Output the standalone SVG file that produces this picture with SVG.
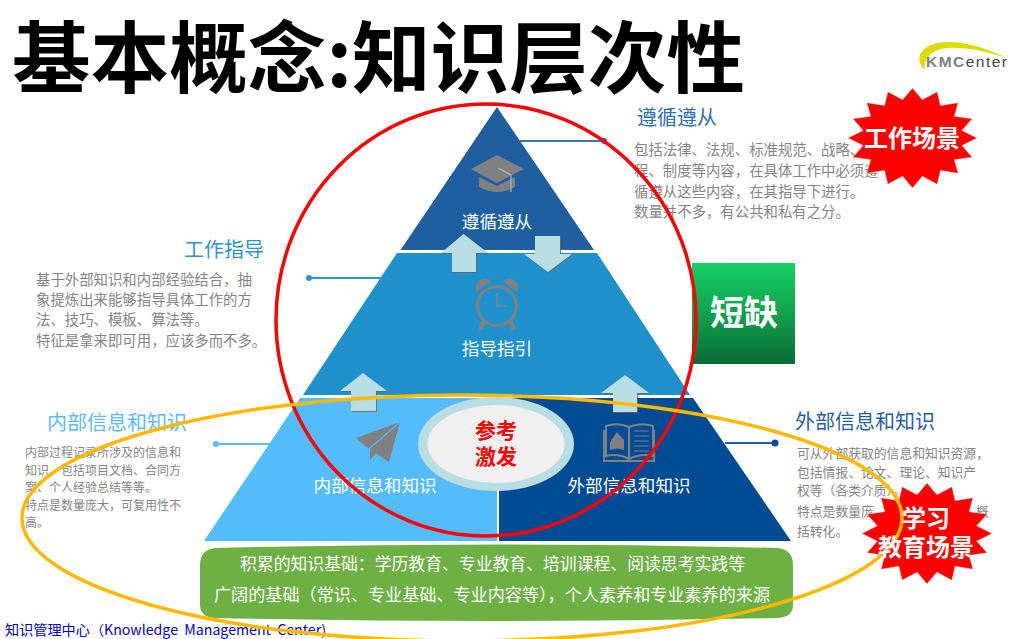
<svg xmlns="http://www.w3.org/2000/svg" width="1024" height="639" viewBox="0 0 1024 639">
<style>
text{font-family:"Noto Sans CJK SC","Noto Sans",sans-serif}
.body{font-size:14.4px;fill:#848484}
.small{font-size:12px;fill:#848484}
.mid{font-size:12.8px;fill:#848484}
.h{font-size:20px}
.lbl{font-size:17.6px;fill:#fff;text-anchor:middle}
.g{font-size:16.5px;fill:#fff}
.star{fill:#f00;stroke:#ccc;stroke-width:1}
.st{font-size:24px;font-weight:700;fill:#fff;text-anchor:middle}
.arr{fill:#b8dde2;filter:url(#sh)}
.ic{fill:#808080}
.ics{fill:none;stroke:#808080}
.conn{fill:none;stroke-width:2}
.ring{fill:none;stroke-width:3.5}
</style>
<defs>
<linearGradient id="gr" x1="0" y1="0" x2="0" y2="1"><stop offset="0" stop-color="#15d066"/><stop offset=".45" stop-color="#12a650"/><stop offset="1" stop-color="#0b6b36"/></linearGradient>
<filter id="sh" x="-10%" y="-10%" width="120%" height="120%"><feDropShadow dx="0.8" dy="0.8" stdDeviation="0.4" flood-color="#666"/></filter>
<polygon id="burst" points="100,0 76.5,15.2 92.4,38.3 64.9,43.3 70.7,70.7 43.3,64.9 38.3,92.4 15.2,76.5 0,100 -15.2,76.5 -38.3,92.4 -43.3,64.9 -70.7,70.7 -64.9,43.3 -92.4,38.3 -76.5,15.2 -100,0 -76.5,-15.2 -92.4,-38.3 -64.9,-43.3 -70.7,-70.7 -43.3,-64.9 -38.3,-92.4 -15.2,-76.5 0,-100 15.2,-76.5 38.3,-92.4 43.3,-64.9 70.7,-70.7 64.9,-43.3 92.4,-38.3 76.5,-15.2"/>
</defs>
<rect width="1024" height="639" fill="#fff"/>
<text id="title" x="12" y="87" font-size="78" font-weight="700" fill="#000" textLength="733" lengthAdjust="spacingAndGlyphs">基本概念:知识层次性</text>
<g id="logo">
<path d="M925 70C912 58 922 42 948 42C970 42 990 50 1007 58C985 51 965 47 948 48C932 49 923 58 925 70Z" fill="#dcdc00"/>
<text x="926" y="67" font-size="15.500" font-weight="700" fill="#808080" style="font-family:'Liberation Sans',sans-serif" textLength="81">KMC<tspan font-weight="400" fill="#444">enter</tspan></text>
</g>
<g id="connectors">
<path class="conn" d="M520 141H604" stroke="#3a76b0"/><circle cx="604" cy="141" r="3" fill="#2e6fb5"/>
<path class="conn" d="M309 278H382" stroke="#2e94d0"/><circle cx="309" cy="278" r="3" fill="#2e94d0"/>
<path class="conn" d="M216 444H272" stroke="#5bbcf8"/><circle cx="216" cy="444" r="3" fill="#5bbcf8"/>
<path class="conn" d="M725 443H775" stroke="#1f5fa5"/><circle cx="775" cy="443" r="3.500" fill="#004c94"/>
</g>
<g id="node-top">
<polygon points="497,107 594,250 400.500,250" fill="#1f5f9f"/>
<path class="ic" d="M497 155L524 169L497 183L471 169Z"/>
<path class="ic" d="M479 177L497 186L515 177V187Q497 197 479 187Z"/>
<path d="M498 168L511 175V192" fill="none" stroke="#a8b8c8" stroke-width="1.200"/>
<text class="lbl" x="497" y="228">遵循遵从</text>
</g>
<g id="node-mid">
<polygon points="397,253 597,253 690,395 303,395" fill="#1e90cc"/>
<circle class="ics" cx="497" cy="306" r="19.500" stroke-width="3"/>
<path class="ic" d="M477 292A9 9 0 0 1 491 281Z"/><path class="ic" d="M517 292A9 9 0 0 0 503 281Z"/>
<path class="ics" d="M484 321L481 328M510 321L513 328" stroke-width="4.500" stroke-linecap="round"/>
<path class="ics" d="M497 293V306H507" stroke-width="1.600"/>
<text class="lbl" x="497" y="355">指导指引</text>
</g>
<g id="node-left">
<polygon points="300,398 497,398 497,541 204,541" fill="#55bcfb"/>
<path class="ic" d="M400 422L356 438L369 449L389 462Z"/>
<path class="ic" d="M370 450V460L376 453Z"/>
<path d="M400 422L369 449" stroke="#55bcfb" stroke-width="1.200"/>
<text class="lbl" x="375" y="492">内部信息和知识</text>
</g>
<g id="node-right">
<polygon points="499,398 693,398 791,541 499,541" fill="#004c94"/>
<path class="ics" d="M606 426Q618 422 629 427Q641 422 653 426V456Q641 453 629 459Q618 453 606 456Z M629 427V459M604 430V461H654V430" stroke-width="2"/>
<path class="ic" d="M610 442L617 432L624 440V450Q617 447 610 450Z"/>
<path class="ics" d="M634 431H649M634 436H649M634 441H649M634 446H649M634 451H649" stroke-width="1"/>
<text class="lbl" x="629" y="492">外部信息和知识</text>
</g>
<g id="arrows">
<polygon class="arr" points="463.500,234 488,253 476,253 476,272 452,272 452,253 441,253"/>
<polygon class="arr" points="535,236 560,236 560,254 572,254 548,272 524,254 535,254"/>
<polygon class="arr" points="363,373 387,391 376,391 376,411 351,411 351,391 340,391"/>
<polygon class="arr" points="625,375 649,393 637,393 637,412 613,412 613,393 601,393"/>
</g>
<g id="node-center">
<ellipse cx="496" cy="444" rx="78" ry="47" fill="#b8dde2"/>
<ellipse cx="496" cy="444" rx="68.500" ry="39" fill="#f0f0f0"/>
<text x="496" y="438" font-size="21" font-weight="700" fill="#f00" text-anchor="middle">参考</text>
<text x="496" y="464" font-size="21" font-weight="700" fill="#f00" text-anchor="middle">激发</text>
</g>
<g id="node-base">
<path d="M200 565Q200 550 215 548Q497 541 778 548Q793 550 793 565V605Q793 617 778 618Q497 624 215 618Q200 617 200 605Z" fill="#6db044"/>
<text class="g" x="240" y="570" textLength="505" lengthAdjust="spacingAndGlyphs">积累的知识基础：学历教育、专业教育、培训课程、阅读思考实践等</text>
<text class="g" x="214" y="601" textLength="556" lengthAdjust="spacingAndGlyphs">广阔的基础（常识、专业基础、专业内容等），个人素养和专业素养的来源</text>
</g>
<g id="node-short">
<rect x="692" y="263" width="103" height="101" fill="url(#gr)"/>
<text x="744" y="325" font-size="34" font-weight="700" fill="#fff" text-anchor="middle">短缺</text>
</g>
<g id="info-top">
<text class="h" x="637" y="125" fill="#2e6fb5">遵循遵从</text>
<text class="body" x="634" y="155">包括法律、法规、标准规范、战略、</text>
<text class="body" x="634" y="176">程、制度等内容，在具体工作中必须遵</text>
<text class="body" x="634" y="197">循遵从这些内容，在其指导下进行。</text>
<text class="body" x="634" y="217">数量并不多，有公共和私有之分。</text>
</g>
<g id="info-mid">
<text class="h" x="184" y="257" fill="#2e94d0">工作指导</text>
<text class="body" x="36" y="285">基于外部知识和内部经验结合，抽</text>
<text class="body" x="36" y="305">象提炼出来能够指导具体工作的方</text>
<text class="body" x="36" y="325">法、技巧、模板、算法等。</text>
<text class="body" x="36" y="346">特征是拿来即可用，应该多而不多。</text>
</g>
<g id="info-left">
<text class="h" x="47" y="430" fill="#5bbcf8">内部信息和知识</text>
<text class="small" x="25" y="457">内部过程记录所涉及的信息和</text>
<text class="small" x="25" y="475">知识，包括项目文档、合同方</text>
<text class="small" x="25" y="492">案、个人经验总结等等。</text>
<text class="small" x="25" y="510">特点是数量庞大，可复用性不</text>
<text class="small" x="25" y="527">高。</text>
</g>
<g id="info-right">
<text class="h" x="795" y="429" fill="#1f5fa5">外部信息和知识</text>
<text class="mid" x="797" y="458">可从外部获取的信息和知识资源，</text>
<text class="mid" x="797" y="477">包括情报、论文、理论、知识产</text>
<text class="mid" x="797" y="495">权等（各类介质）。</text>
<text class="mid" x="797" y="516">特点是数量庞<tspan x="976">概</tspan></text>
<text class="mid" x="797" y="536">括转化。</text>
</g>
<text id="footer" x="5" y="635" font-size="14" fill="#0000cc" textLength="321" lengthAdjust="spacingAndGlyphs" xml:space="preserve">知识管理中心（Knowledge  Management  Center)</text>
<g id="star-work">
<use href="#burst" class="star" transform="translate(912.500 138) scale(.645 .5)"/>
<text class="st" x="912" y="147">工作场景</text>
</g>
<g id="star-study">
<use href="#burst" class="star" transform="translate(927 533.500) scale(.65 .505)"/>
</g>
<g id="rings">
<ellipse class="ring" cx="486" cy="320" rx="210" ry="216" stroke="#f00"/>
<ellipse class="ring" cx="462" cy="518" rx="440" ry="123" stroke="#ffb900"/>
</g>
<g id="star-study-text">
<text class="st" x="926" y="527">学习</text>
<text class="st" x="926" y="556">教育场景</text>
</g>
</svg>
